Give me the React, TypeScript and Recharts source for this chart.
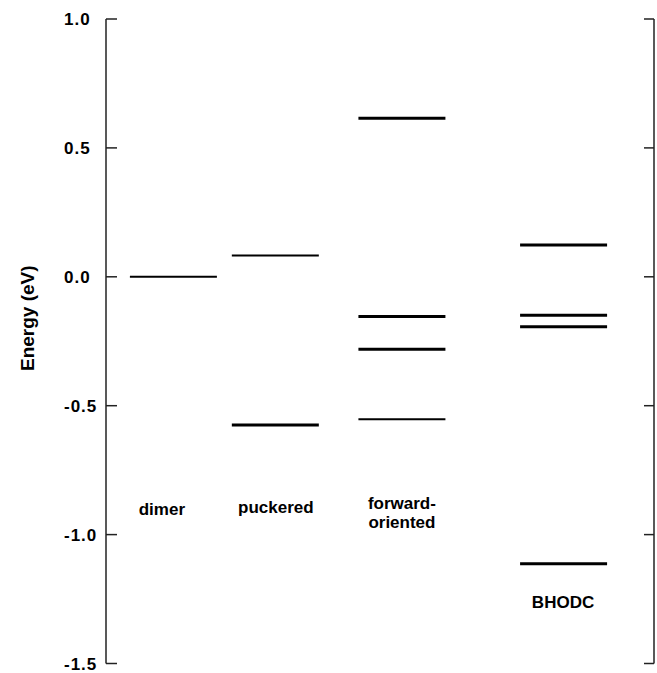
import { ComposedChart, Scatter, XAxis, YAxis } from "recharts";

// configurations along the x axis, with their slot position (0..100 of the plot width)
const categories = ["dimer", "puckered", "forward-oriented", "BHODC"];
const categoryPos = [12.3, 30.9, 54.0, 83.5];

// energy levels (eV) per configuration
const dimerLevels = [0.0];
const puckeredLevels = [0.083, -0.575];
const forwardLevels = [0.615, -0.154, -0.281, -0.553];
const bhodcLevels = [0.123, -0.149, -0.194, -1.113];

// category captions and where they sit (x slot, baseline energy)
const captionText = ["dimer", "puckered", "forward-\noriented", "BHODC"];
const captionPos = [10.2, 31.0, 54.0, 83.4];
const captionEnergy = [-0.924, -0.915, -0.9, -1.286];

const yTicks = [-1.5, -1.0, -0.5, 0.0, 0.5, 1.0];

// thinner strokes for a few levels (category index : level index)
const thinLevels = new Set(["0:0", "1:0", "2:3"]);

const FONT = '"Liberation Sans", Arial, Helvetica, sans-serif';
const AXIS = "#222";

const allLevels = [dimerLevels, puckeredLevels, forwardLevels, bhodcLevels];

const levelData = categories.flatMap((cat, i) =>
  allLevels[i].map((e, j) => ({
    x: categoryPos[i],
    y: e,
    cat,
    thin: thinLevels.has(`${i}:${j}`),
  }))
);

const captionData = captionText.map((text, i) => ({
  x: captionPos[i],
  y: captionEnergy[i],
  text,
}));

function LevelShape(props: any) {
  const { cx, cy, payload } = props;
  if (cx == null || cy == null) return null;
  return (
    <line
      x1={cx - 43.5}
      x2={cx + 43.5}
      y1={cy}
      y2={cy}
      stroke="#000"
      strokeWidth={payload.thin ? 2 : 3}
    />
  );
}

function CaptionShape(props: any) {
  const { cx, cy, payload } = props;
  if (cx == null || cy == null) return null;
  const lines: string[] = payload.text.split("\n");
  return (
    <text
      x={cx}
      y={cy}
      textAnchor="middle"
      fontFamily={FONT}
      fontWeight="bold"
      fontSize={17}
      fill="#000"
    >
      {lines.map((l, k) => (
        <tspan key={k} x={cx} dy={k === 0 ? 0 : 19}>
          {l}
        </tspan>
      ))}
    </text>
  );
}

function LeftTick(props: any) {
  const { y, payload } = props;
  return (
    <text
      x={64}
      y={y}
      dy={6}
      textAnchor="start"
      fontFamily={FONT}
      fontWeight="bold"
      fontSize={17}
      letterSpacing={1}
      fill="#000"
    >
      {payload.value.toFixed(1)}
    </text>
  );
}

function NoTick() {
  return <g />;
}

function AxisTitle(props: any) {
  const { viewBox } = props;
  const cx = 27;
  const cy = viewBox.y + viewBox.height / 2 - 23;
  return (
    <text
      transform={`translate(${cx}, ${cy}) rotate(-90)`}
      textAnchor="middle"
      dominantBaseline="central"
      fontFamily={FONT}
      fontWeight="bold"
      fontSize={19}
      fill="#000"
    >
      Energy (eV)
    </text>
  );
}

export default function App() {
  return (
    <div style={{ position: "absolute", left: 0, top: 0, background: "#fff" }}>
      <ComposedChart
        width={657}
        height={673}
        margin={{ top: 19, right: 0, bottom: 9.5, left: 46 }}
      >
        <XAxis type="number" dataKey="x" domain={[0, 100]} hide />
        <YAxis
          yAxisId="left"
          type="number"
          dataKey="y"
          domain={[-1.5, 1.0]}
          ticks={yTicks}
          width={60}
          axisLine={{ stroke: AXIS, strokeWidth: 1.5 }}
          tickLine={{ stroke: AXIS, strokeWidth: 1.5 }}
          tickSize={-11}
          tickMargin={0}
          tick={<LeftTick />}
          interval={0}
          label={{ content: <AxisTitle /> }}
        />
        <YAxis
          yAxisId="right"
          orientation="right"
          type="number"
          dataKey="y"
          domain={[-1.5, 1.0]}
          ticks={yTicks}
          width={3}
          axisLine={{ stroke: AXIS, strokeWidth: 1.5 }}
          tickLine={{ stroke: AXIS, strokeWidth: 1.5 }}
          tickSize={-10}
          tick={<NoTick />}
          interval={0}
        />
        <Scatter
          yAxisId="left"
          data={levelData}
          shape={<LevelShape />}
          isAnimationActive={false}
        />
        <Scatter
          yAxisId="right"
          data={captionData}
          shape={<CaptionShape />}
          isAnimationActive={false}
        />
      </ComposedChart>
    </div>
  );
}
